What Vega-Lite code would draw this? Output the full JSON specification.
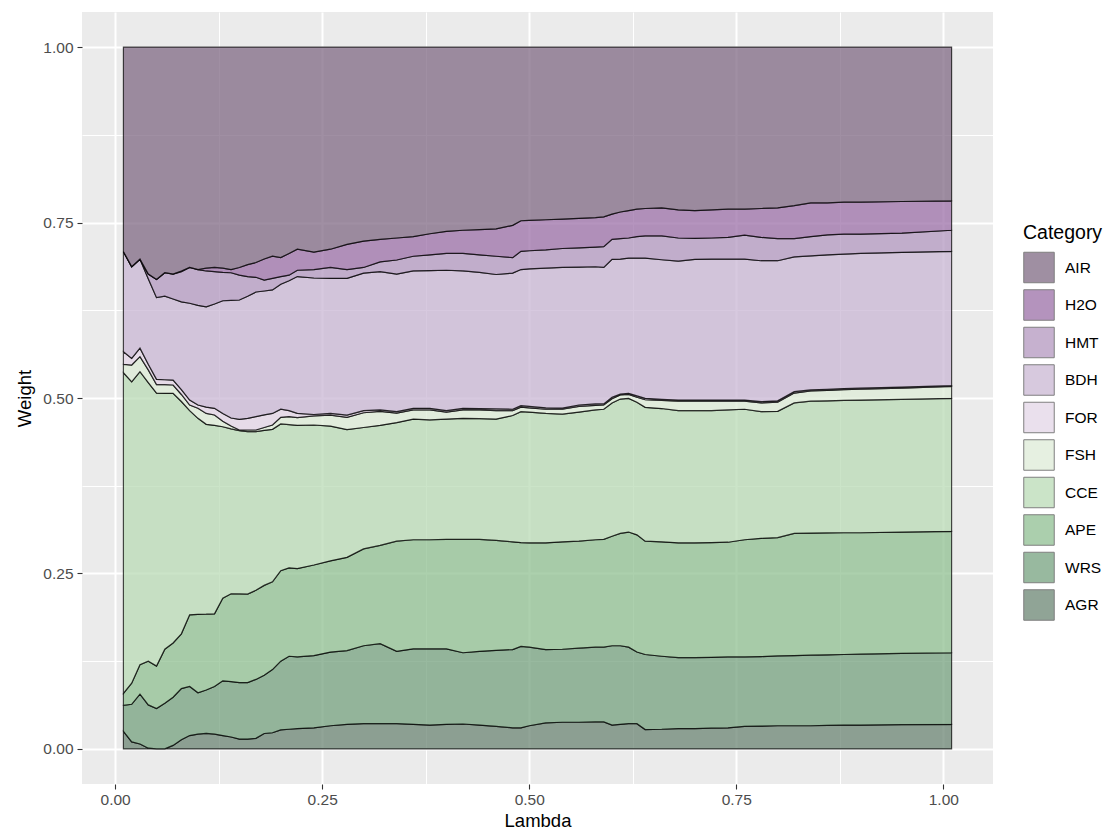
{
  "$schema": "https://vega.github.io/schema/vega-lite/v6.json",
  "width": 911,
  "height": 772,
  "autosize": {"type": "none"},
  "padding": {"left": 82, "top": 12, "right": 117, "bottom": 48},
  "background": "white",
  "config": {
    "font": "Liberation Sans",
    "view": {"stroke": null, "fill": "#EBEBEB"},
    "axis": {
      "domain": false,
      "gridColor": "#FFFFFF",
      "tickColor": "#333333",
      "tickSize": 5,
      "tickWidth": 1.1,
      "labelFont": "Liberation Sans",
      "labelFontSize": 15.5,
      "labelColor": "#4D4D4D",
      "labelPadding": 3,
      "titleFont": "Liberation Sans",
      "titleFontSize": 18.5,
      "titleFontWeight": "normal",
      "titleColor": "#000000"
    }
  },
  "datasets": {
    "cats": [
      {"c": "AGR", "o": 1}, {"c": "WRS", "o": 2}, {"c": "APE", "o": 3}, {"c": "CCE", "o": 4}, {"c": "FSH", "o": 5},
      {"c": "FOR", "o": 6}, {"c": "BDH", "o": 7}, {"c": "HMT", "o": 8}, {"c": "H2O", "o": 9}, {"c": "AIR", "o": 10}
    ],
    "weights": [
      {"l":0.01,"AGR":0.025,"WRS":0.037,"APE":0.017,"CCE":0.457,"FSH":0.012,"FOR":0.018,"BDH":0.1425,"HMT":0,"H2O":0,"AIR":0.2915},
      {"l":0.02,"AGR":0.010,"WRS":0.0536,"APE":0.030,"CCE":0.4294,"FSH":0.024,"FOR":0.0095,"BDH":0.1305,"HMT":0,"H2O":0,"AIR":0.313},
      {"l":0.03,"AGR":0.007,"WRS":0.071,"APE":0.042,"CCE":0.4175,"FSH":0.0215,"FOR":0.012,"BDH":0.1266,"HMT":0,"H2O":0,"AIR":0.3024},
      {"l":0.04,"AGR":0.001,"WRS":0.0617,"APE":0.0623,"CCE":0.397,"FSH":0.018,"FOR":0.008,"BDH":0.122,"HMT":0.0066,"H2O":0,"AIR":0.3234},
      {"l":0.05,"AGR":0,"WRS":0.0575,"APE":0.0605,"CCE":0.389,"FSH":0.012,"FOR":0.0076,"BDH":0.1164,"HMT":0.026,"H2O":0,"AIR":0.331},
      {"l":0.06,"AGR":0,"WRS":0.065,"APE":0.077,"CCE":0.3646,"FSH":0.0124,"FOR":0.007,"BDH":0.119,"HMT":0.0335,"H2O":0,"AIR":0.3215},
      {"l":0.07,"AGR":0.005,"WRS":0.0686,"APE":0.0774,"CCE":0.3556,"FSH":0.0119,"FOR":0.0071,"BDH":0.1154,"HMT":0.0356,"H2O":0,"AIR":0.3234},
      {"l":0.08,"AGR":0.013,"WRS":0.073,"APE":0.078,"CCE":0.331,"FSH":0.010,"FOR":0.007,"BDH":0.125,"HMT":0.043,"H2O":0.001,"AIR":0.319},
      {"l":0.09,"AGR":0.019,"WRS":0.070,"APE":0.102,"CCE":0.291,"FSH":0.008,"FOR":0.007,"BDH":0.138,"HMT":0.051,"H2O":0,"AIR":0.314},
      {"l":0.10,"AGR":0.021,"WRS":0.059,"APE":0.1118,"CCE":0.2792,"FSH":0.0143,"FOR":0.0047,"BDH":0.142,"HMT":0.051,"H2O":0,"AIR":0.317},
      {"l":0.11,"AGR":0.022,"WRS":0.062,"APE":0.108,"CCE":0.2705,"FSH":0.0155,"FOR":0.009,"BDH":0.143,"HMT":0.051,"H2O":0.004,"AIR":0.315},
      {"l":0.12,"AGR":0.021,"WRS":0.0678,"APE":0.1037,"CCE":0.2685,"FSH":0.0148,"FOR":0.0095,"BDH":0.1487,"HMT":0.046,"H2O":0.006,"AIR":0.314},
      {"l":0.13,"AGR":0.019,"WRS":0.078,"APE":0.1177,"CCE":0.2443,"FSH":0.008,"FOR":0.011,"BDH":0.1606,"HMT":0.0404,"H2O":0.006,"AIR":0.315},
      {"l":0.14,"AGR":0.017,"WRS":0.079,"APE":0.125,"CCE":0.235,"FSH":0.004,"FOR":0.0115,"BDH":0.1675,"HMT":0.0395,"H2O":0.0045,"AIR":0.317},
      {"l":0.15,"AGR":0.014,"WRS":0.0805,"APE":0.1263,"CCE":0.2326,"FSH":0.001,"FOR":0.0152,"BDH":0.17,"HMT":0.0354,"H2O":0.011,"AIR":0.314},
      {"l":0.16,"AGR":0.014,"WRS":0.0805,"APE":0.126,"CCE":0.2315,"FSH":0.0024,"FOR":0.0166,"BDH":0.174,"HMT":0.028,"H2O":0.017,"AIR":0.310},
      {"l":0.17,"AGR":0.015,"WRS":0.084,"APE":0.127,"CCE":0.226,"FSH":0.0024,"FOR":0.0191,"BDH":0.1775,"HMT":0.021,"H2O":0.021,"AIR":0.307},
      {"l":0.18,"AGR":0.022,"WRS":0.083,"APE":0.128,"CCE":0.221,"FSH":0.004,"FOR":0.018,"BDH":0.1765,"HMT":0.0155,"H2O":0.030,"AIR":0.302},
      {"l":0.19,"AGR":0.023,"WRS":0.090,"APE":0.125,"CCE":0.2174,"FSH":0.0061,"FOR":0.0165,"BDH":0.176,"HMT":0.0165,"H2O":0.0315,"AIR":0.298},
      {"l":0.20,"AGR":0.027,"WRS":0.098,"APE":0.129,"CCE":0.209,"FSH":0.0095,"FOR":0.0115,"BDH":0.178,"HMT":0.011,"H2O":0.027,"AIR":0.300},
      {"l":0.21,"AGR":0.028,"WRS":0.104,"APE":0.126,"CCE":0.204,"FSH":0.0115,"FOR":0.0085,"BDH":0.185,"HMT":0.008,"H2O":0.031,"AIR":0.294},
      {"l":0.22,"AGR":0.029,"WRS":0.102,"APE":0.126,"CCE":0.204,"FSH":0.011,"FOR":0.006,"BDH":0.195,"HMT":0.009,"H2O":0.030,"AIR":0.288},
      {"l":0.24,"AGR":0.030,"WRS":0.103,"APE":0.129,"CCE":0.1995,"FSH":0.013,"FOR":0.002,"BDH":0.1945,"HMT":0.012,"H2O":0.025,"AIR":0.292},
      {"l":0.26,"AGR":0.033,"WRS":0.105,"APE":0.130,"CCE":0.192,"FSH":0.0155,"FOR":0.0025,"BDH":0.1925,"HMT":0.0155,"H2O":0.026,"AIR":0.288},
      {"l":0.28,"AGR":0.035,"WRS":0.105,"APE":0.133,"CCE":0.182,"FSH":0.0175,"FOR":0.003,"BDH":0.195,"HMT":0.0125,"H2O":0.036,"AIR":0.281},
      {"l":0.30,"AGR":0.036,"WRS":0.111,"APE":0.138,"CCE":0.173,"FSH":0.021,"FOR":0.003,"BDH":0.196,"HMT":0.008,"H2O":0.0376,"AIR":0.2764},
      {"l":0.32,"AGR":0.036,"WRS":0.114,"APE":0.140,"CCE":0.171,"FSH":0.020,"FOR":0.002,"BDH":0.197,"HMT":0.014,"H2O":0.032,"AIR":0.274},
      {"l":0.34,"AGR":0.036,"WRS":0.103,"APE":0.157,"CCE":0.169,"FSH":0.0135,"FOR":0.002,"BDH":0.1961,"HMT":0.020,"H2O":0.0314,"AIR":0.272},
      {"l":0.36,"AGR":0.035,"WRS":0.1076,"APE":0.1554,"CCE":0.172,"FSH":0.013,"FOR":0.0023,"BDH":0.1957,"HMT":0.021,"H2O":0.028,"AIR":0.270},
      {"l":0.38,"AGR":0.034,"WRS":0.1086,"APE":0.1554,"CCE":0.1707,"FSH":0.0143,"FOR":0.0023,"BDH":0.1962,"HMT":0.0225,"H2O":0.030,"AIR":0.266},
      {"l":0.40,"AGR":0.035,"WRS":0.1076,"APE":0.1559,"CCE":0.1715,"FSH":0.010,"FOR":0.002,"BDH":0.200,"HMT":0.024,"H2O":0.0315,"AIR":0.2625},
      {"l":0.42,"AGR":0.0355,"WRS":0.1015,"APE":0.1615,"CCE":0.1725,"FSH":0.012,"FOR":0.0023,"BDH":0.1957,"HMT":0.025,"H2O":0.033,"AIR":0.261},
      {"l":0.44,"AGR":0.034,"WRS":0.105,"APE":0.1595,"CCE":0.172,"FSH":0.0125,"FOR":0.002,"BDH":0.194,"HMT":0.025,"H2O":0.036,"AIR":0.260},
      {"l":0.46,"AGR":0.032,"WRS":0.1085,"APE":0.1565,"CCE":0.173,"FSH":0.012,"FOR":0.0025,"BDH":0.1915,"HMT":0.026,"H2O":0.039,"AIR":0.259},
      {"l":0.48,"AGR":0.030,"WRS":0.1116,"APE":0.1534,"CCE":0.180,"FSH":0.007,"FOR":0.002,"BDH":0.194,"HMT":0.022,"H2O":0.046,"AIR":0.254},
      {"l":0.49,"AGR":0.030,"WRS":0.116,"APE":0.148,"CCE":0.1865,"FSH":0.0065,"FOR":0.002,"BDH":0.194,"HMT":0.026,"H2O":0.0436,"AIR":0.2474},
      {"l":0.50,"AGR":0.033,"WRS":0.112,"APE":0.1487,"CCE":0.1863,"FSH":0.006,"FOR":0.002,"BDH":0.196,"HMT":0.0258,"H2O":0.0432,"AIR":0.247},
      {"l":0.52,"AGR":0.037,"WRS":0.1046,"APE":0.1521,"CCE":0.1843,"FSH":0.006,"FOR":0.002,"BDH":0.199,"HMT":0.026,"H2O":0.043,"AIR":0.246},
      {"l":0.54,"AGR":0.038,"WRS":0.104,"APE":0.153,"CCE":0.182,"FSH":0.007,"FOR":0.0015,"BDH":0.2005,"HMT":0.027,"H2O":0.042,"AIR":0.245},
      {"l":0.56,"AGR":0.038,"WRS":0.1055,"APE":0.1525,"CCE":0.184,"FSH":0.008,"FOR":0.002,"BDH":0.1965,"HMT":0.0275,"H2O":0.042,"AIR":0.244},
      {"l":0.58,"AGR":0.0385,"WRS":0.1065,"APE":0.153,"CCE":0.185,"FSH":0.0065,"FOR":0.002,"BDH":0.1955,"HMT":0.028,"H2O":0.042,"AIR":0.243},
      {"l":0.59,"AGR":0.0385,"WRS":0.1065,"APE":0.1535,"CCE":0.1855,"FSH":0.006,"FOR":0.0015,"BDH":0.1945,"HMT":0.0296,"H2O":0.0424,"AIR":0.242},
      {"l":0.60,"AGR":0.034,"WRS":0.113,"APE":0.156,"CCE":0.190,"FSH":0.006,"FOR":0.002,"BDH":0.1966,"HMT":0.0284,"H2O":0.036,"AIR":0.238},
      {"l":0.61,"AGR":0.035,"WRS":0.112,"APE":0.160,"CCE":0.1915,"FSH":0.006,"FOR":0.001,"BDH":0.1925,"HMT":0.029,"H2O":0.038,"AIR":0.235},
      {"l":0.62,"AGR":0.036,"WRS":0.109,"APE":0.164,"CCE":0.1905,"FSH":0.0055,"FOR":0.0016,"BDH":0.1928,"HMT":0.0286,"H2O":0.039,"AIR":0.233},
      {"l":0.63,"AGR":0.036,"WRS":0.102,"APE":0.167,"CCE":0.189,"FSH":0.007,"FOR":0.002,"BDH":0.1964,"HMT":0.0306,"H2O":0.039,"AIR":0.231},
      {"l":0.64,"AGR":0.0276,"WRS":0.1069,"APE":0.1615,"CCE":0.1907,"FSH":0.0108,"FOR":0.002,"BDH":0.1999,"HMT":0.0316,"H2O":0.039,"AIR":0.230},
      {"l":0.66,"AGR":0.028,"WRS":0.104,"APE":0.163,"CCE":0.190,"FSH":0.0115,"FOR":0.0015,"BDH":0.199,"HMT":0.034,"H2O":0.040,"AIR":0.229},
      {"l":0.68,"AGR":0.029,"WRS":0.101,"APE":0.1637,"CCE":0.1883,"FSH":0.0135,"FOR":0.0015,"BDH":0.198,"HMT":0.033,"H2O":0.040,"AIR":0.232},
      {"l":0.70,"AGR":0.029,"WRS":0.101,"APE":0.1637,"CCE":0.1883,"FSH":0.0135,"FOR":0.0015,"BDH":0.2006,"HMT":0.0299,"H2O":0.0395,"AIR":0.233},
      {"l":0.72,"AGR":0.0295,"WRS":0.101,"APE":0.1635,"CCE":0.188,"FSH":0.0135,"FOR":0.0015,"BDH":0.201,"HMT":0.030,"H2O":0.040,"AIR":0.232},
      {"l":0.74,"AGR":0.030,"WRS":0.101,"APE":0.1635,"CCE":0.1885,"FSH":0.0125,"FOR":0.0015,"BDH":0.201,"HMT":0.031,"H2O":0.040,"AIR":0.231},
      {"l":0.76,"AGR":0.032,"WRS":0.099,"APE":0.167,"CCE":0.186,"FSH":0.0115,"FOR":0.0015,"BDH":0.201,"HMT":0.034,"H2O":0.037,"AIR":0.231},
      {"l":0.78,"AGR":0.0325,"WRS":0.099,"APE":0.1685,"CCE":0.1805,"FSH":0.0125,"FOR":0.0018,"BDH":0.2008,"HMT":0.0334,"H2O":0.041,"AIR":0.230},
      {"l":0.80,"AGR":0.033,"WRS":0.0995,"APE":0.1685,"CCE":0.180,"FSH":0.013,"FOR":0.002,"BDH":0.1996,"HMT":0.0314,"H2O":0.044,"AIR":0.229},
      {"l":0.82,"AGR":0.033,"WRS":0.100,"APE":0.174,"CCE":0.186,"FSH":0.014,"FOR":0.002,"BDH":0.192,"HMT":0.026,"H2O":0.047,"AIR":0.226},
      {"l":0.84,"AGR":0.033,"WRS":0.1005,"APE":0.174,"CCE":0.188,"FSH":0.0145,"FOR":0.0015,"BDH":0.191,"HMT":0.0275,"H2O":0.048,"AIR":0.222},
      {"l":0.86,"AGR":0.0335,"WRS":0.1005,"APE":0.1738,"CCE":0.1882,"FSH":0.015,"FOR":0.0015,"BDH":0.1915,"HMT":0.0285,"H2O":0.0455,"AIR":0.222},
      {"l":0.88,"AGR":0.034,"WRS":0.1005,"APE":0.1735,"CCE":0.1885,"FSH":0.0155,"FOR":0.0015,"BDH":0.1915,"HMT":0.0285,"H2O":0.0455,"AIR":0.221},
      {"l":0.90,"AGR":0.034,"WRS":0.101,"APE":0.173,"CCE":0.189,"FSH":0.0155,"FOR":0.0015,"BDH":0.192,"HMT":0.0276,"H2O":0.0454,"AIR":0.221},
      {"l":0.95,"AGR":0.0345,"WRS":0.1015,"APE":0.173,"CCE":0.189,"FSH":0.016,"FOR":0.0015,"BDH":0.192,"HMT":0.0275,"H2O":0.045,"AIR":0.220},
      {"l":1.01,"AGR":0.035,"WRS":0.102,"APE":0.173,"CCE":0.1895,"FSH":0.017,"FOR":0.0011,"BDH":0.1914,"HMT":0.030,"H2O":0.042,"AIR":0.219}
    ]
  },
  "data": {"name": "weights"},
  "transform": [
    {"fold": ["AGR", "WRS", "APE", "CCE", "FSH", "FOR", "BDH", "HMT", "H2O", "AIR"], "as": ["Category", "w"]},
    {"lookup": "Category", "from": {"data": {"name": "cats"}, "key": "c", "fields": ["o"]}}
  ],
  "mark": {
    "type": "area",
    "interpolate": "linear",
    "fillOpacity": 0.75,
    "stroke": "#000000",
    "strokeWidth": 1.2,
    "strokeOpacity": 0.7
  },
  "encoding": {
    "x": {
      "field": "l",
      "type": "quantitative",
      "title": "Lambda",
      "scale": {"domain": [-0.04, 1.06], "nice": false, "zero": false},
      "axis": {
        "values": [0, 0.125, 0.25, 0.375, 0.5, 0.625, 0.75, 0.875, 1],
        "labelExpr": "datum.value % 0.25 === 0 ? format(datum.value, '.2f') : ''",
        "labelOverlap": false,
        "gridWidth": {"condition": {"test": "datum.value % 0.25 === 0", "value": 2}, "value": 1},
        "tickOpacity": {"condition": {"test": "datum.value % 0.25 === 0", "value": 1}, "value": 0},
        "titlePadding": 4
      }
    },
    "y": {
      "field": "w",
      "type": "quantitative",
      "stack": "zero",
      "title": "Weight",
      "scale": {"domain": [-0.05, 1.05], "nice": false, "zero": false},
      "axis": {
        "values": [0, 0.125, 0.25, 0.375, 0.5, 0.625, 0.75, 0.875, 1],
        "labelExpr": "datum.value % 0.25 === 0 ? format(datum.value, '.2f') : ''",
        "labelOverlap": false,
        "labelPadding": 4,
        "gridWidth": {"condition": {"test": "datum.value % 0.25 === 0", "value": 2}, "value": 1},
        "tickOpacity": {"condition": {"test": "datum.value % 0.25 === 0", "value": 1}, "value": 0},
        "titlePadding": 8
      }
    },
    "color": {
      "field": "Category",
      "type": "nominal",
      "scale": {
        "domain": ["AIR", "H2O", "HMT", "BDH", "FOR", "FSH", "CCE", "APE", "WRS", "AGR"],
        "range": ["#806a84", "#9c70a8", "#b398c0", "#cab7d4", "#e4d6e7", "#deecd7", "#badbb6", "#90c092", "#76a27f", "#6c8674"]
      },
      "legend": {
        "orient": "none",
        "legendX": 941,
        "legendY": 212,
        "padding": 0,
        "title": "Category",
        "titleFont": "Liberation Sans",
        "titleFontSize": 19.5,
        "titleFontWeight": "normal",
        "titleColor": "#000000",
        "titlePadding": 8,
        "labelFont": "Liberation Sans",
        "labelFontSize": 15.5,
        "labelColor": "#000000",
        "labelOffset": 10,
        "symbolType": "square",
        "symbolSize": 930,
        "symbolOpacity": 0.75,
        "symbolStrokeColor": "#555555",
        "symbolStrokeWidth": 1,
        "rowPadding": 1.5
      }
    },
    "order": {"field": "o", "type": "quantitative"}
  }
}
